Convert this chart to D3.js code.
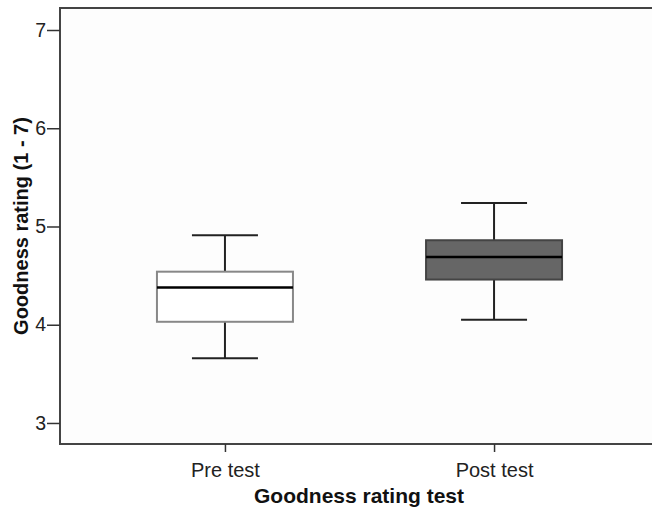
<!DOCTYPE html>
<html>
<head>
<meta charset="utf-8">
<script src="https://cdn.jsdelivr.net/npm/d3@7"></script>
<style>
body { margin: 0; background: #fff; }
text { font-family: "Liberation Sans", Arial, sans-serif; }
</style>
</head>
<body>
<svg id="main" width="652" height="510"></svg>
<script>
var groups = ["Pre test", "Post test"];
var whiskerLow = [3.66, 4.05];
var q1 = [4.03, 4.46];
var median = [4.38, 4.69];
var q3 = [4.54, 4.86];
var whiskerHigh = [4.91, 5.24];
var fills = ["#ffffff", "#666666"];
var strokes = ["#888888", "#444444"];
var yTicks = [3, 4, 5, 6, 7];

var svg = d3.select("#main");
svg.append("rect").attr("width", 652).attr("height", 510).attr("fill", "#ffffff");

var plotLeft = 60, plotTop = 8, plotRight = 659, plotBottom = 444;
var y = d3.scaleLinear().domain([2.786, 7.224]).range([plotBottom, plotTop]);
var x = d3.scalePoint().domain(groups).range([plotLeft, plotRight]).padding(0.613);

// frame
svg.append("rect").attr("x", plotLeft).attr("y", plotTop).attr("width", plotRight - plotLeft).attr("height", plotBottom - plotTop)
	.attr("fill", "#fdfdfd").attr("stroke", "#444").attr("stroke-width", 2);

var yAxis = svg.append("g").attr("transform", "translate(" + plotLeft + ",0)")
	.call(d3.axisLeft(y).tickValues(yTicks).tickSize(13).tickPadding(1).tickFormat(d3.format("d")));
yAxis.select(".domain").remove();
yAxis.selectAll("line").attr("stroke", "#333").attr("stroke-width", 1.5);
yAxis.selectAll("text").attr("font-size", 19.5).attr("fill", "#222").attr("font-family", "Liberation Sans, Arial, sans-serif");

var xAxis = svg.append("g").attr("transform", "translate(0," + plotBottom + ")")
	.call(d3.axisBottom(x).tickSize(8).tickPadding(11));
xAxis.select(".domain").remove();
xAxis.selectAll("line").attr("stroke", "#333").attr("stroke-width", 1.5);
xAxis.selectAll("text").attr("font-size", 20).attr("fill", "#222").attr("font-family", "Liberation Sans, Arial, sans-serif");

var boxW = 136, capW = 66;
var boxes = svg.selectAll(".box").data(groups).enter().append("g").attr("class", "box");
boxes.each(function(d, i) {
	var g = d3.select(this);
	var cx = x(d);
	g.append("line").attr("x1", cx).attr("x2", cx).attr("y1", y(whiskerHigh[i])).attr("y2", y(q3[i]))
		.attr("stroke", "#222").attr("stroke-width", 2);
	g.append("line").attr("x1", cx).attr("x2", cx).attr("y1", y(q1[i])).attr("y2", y(whiskerLow[i]))
		.attr("stroke", "#222").attr("stroke-width", 2);
	g.append("line").attr("x1", cx - capW / 2).attr("x2", cx + capW / 2).attr("y1", y(whiskerHigh[i])).attr("y2", y(whiskerHigh[i]))
		.attr("stroke", "#222").attr("stroke-width", 2);
	g.append("line").attr("x1", cx - capW / 2).attr("x2", cx + capW / 2).attr("y1", y(whiskerLow[i])).attr("y2", y(whiskerLow[i]))
		.attr("stroke", "#222").attr("stroke-width", 2);
	g.append("rect").attr("x", cx - boxW / 2).attr("y", y(q3[i])).attr("width", boxW).attr("height", y(q1[i]) - y(q3[i]))
		.attr("fill", fills[i]).attr("stroke", strokes[i]).attr("stroke-width", 2);
	g.append("line").attr("x1", cx - boxW / 2).attr("x2", cx + boxW / 2).attr("y1", y(median[i])).attr("y2", y(median[i]))
		.attr("stroke", "#000").attr("stroke-width", 2.5);
});

svg.append("text").attr("transform", "translate(28," + ((plotTop + plotBottom) / 2) + ") rotate(-90)")
	.attr("text-anchor", "middle").attr("font-size", 20).attr("font-weight", "bold").attr("fill", "#111")
	.text("Goodness rating (1 - 7)");
svg.append("text").attr("x", 359).attr("y", 503).attr("text-anchor", "middle")
	.attr("font-size", 21).attr("font-weight", "bold").attr("fill", "#111")
	.text("Goodness rating test");
</script>
</body>
</html>
